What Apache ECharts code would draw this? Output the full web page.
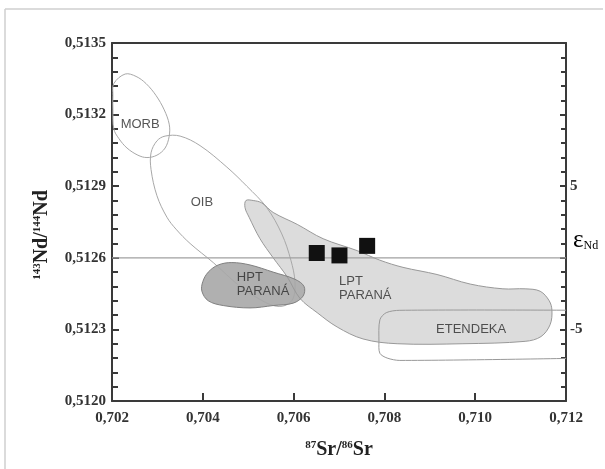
<!DOCTYPE html>
<html>
<head>
<meta charset="utf-8">
<script src="https://cdn.jsdelivr.net/npm/echarts@6/dist/echarts.min.js"></script>
<style>
  html, body { margin: 0; padding: 0; background: #fff; }
  #chart { width: 605px; height: 469px; }
</style>
</head>
<body>
<div id="chart"></div>
<script>
// 87Sr/86Sr vs 143Nd/144Nd isotope diagram with mantle / province fields

// Axis ranges and tick steps
const xRange = [0.702, 0.712];
const xStep = 0.002;
const yRange = [0.5120, 0.5135];
const yStep = 0.0003;
const epsRange = [-10, 15];
const epsStep = 5;
const epsLabelled = [5, -5];

// Reference line (εNd = 0 level)
const chondriteLevel = 0.5126;

// Sample compositions [87Sr/86Sr, 143Nd/144Nd]
const sampleSr = [0.70651, 0.70701, 0.70762];
const sampleNd = [0.51262, 0.51261, 0.51265];

// Field outlines [87Sr/86Sr, 143Nd/144Nd]
const morbField = [
  [0.70204, 0.51333], [0.70229, 0.51337], [0.70253, 0.51336], [0.70275, 0.51333],
  [0.70297, 0.51328], [0.70315, 0.51322], [0.70326, 0.51316], [0.70326, 0.51311],
  [0.70317, 0.51306], [0.70299, 0.51303], [0.70277, 0.51302], [0.70257, 0.51303],
  [0.70233, 0.51306], [0.70215, 0.51310], [0.70204, 0.51314], [0.70202, 0.51322],
  [0.70202, 0.51328]
];
const oibField = [
  [0.70317, 0.51311], [0.70350, 0.51311], [0.70394, 0.51307], [0.70453, 0.51298],
  [0.70497, 0.51290], [0.70541, 0.51281], [0.70574, 0.51270], [0.70594, 0.51259],
  [0.70603, 0.51250], [0.70599, 0.51243], [0.70581, 0.51240], [0.70555, 0.51240],
  [0.70522, 0.51243], [0.70482, 0.51248], [0.70423, 0.51258], [0.70372, 0.51266],
  [0.70341, 0.51272], [0.70321, 0.51277], [0.70299, 0.51286], [0.70286, 0.51297],
  [0.70286, 0.51304], [0.70299, 0.51309]
];
const hptField = [
  [0.70412, 0.51254], [0.70434, 0.51257], [0.70464, 0.51258], [0.70504, 0.51257],
  [0.70555, 0.51254], [0.70603, 0.51251], [0.70623, 0.51248], [0.70621, 0.51244],
  [0.70599, 0.51241], [0.70555, 0.51240], [0.70504, 0.51239], [0.70445, 0.51240],
  [0.70412, 0.51242], [0.70398, 0.51246], [0.70400, 0.51250]
];
const lptField = [
  [0.70495, 0.51284], [0.70511, 0.51284], [0.70530, 0.51283], [0.70555, 0.51279],
  [0.70608, 0.51274], [0.70665, 0.51268], [0.70740, 0.51263], [0.70790, 0.51259],
  [0.70841, 0.51256], [0.70916, 0.51253], [0.70989, 0.51249], [0.71061, 0.51247],
  [0.71110, 0.51247], [0.71143, 0.51246], [0.71163, 0.51242], [0.71169, 0.51238],
  [0.71165, 0.51232], [0.71145, 0.51227], [0.71110, 0.51225], [0.70973, 0.51224],
  [0.70828, 0.51224], [0.70753, 0.51226], [0.70696, 0.51231], [0.70652, 0.51237],
  [0.70614, 0.51243], [0.70586, 0.51252], [0.70555, 0.51260], [0.70526, 0.51268],
  [0.70502, 0.51277], [0.70493, 0.51281]
];
// open on the high-Sr side, runs past the frame
const etendekaField = [
  [0.7125, 0.51238], [0.70834, 0.51238], [0.70804, 0.51237], [0.70790, 0.51234],
  [0.70788, 0.51225], [0.70790, 0.51220], [0.70806, 0.51218], [0.70834, 0.51217],
  [0.7125, 0.51218]
];

// Field names and anchor points
const fieldNames = ['MORB', 'OIB', 'HPT\nPARANÁ', 'LPT\nPARANÁ', 'ETENDEKA'];
const fieldLabelAt = [
  [0.70262, 0.51316], [0.70398, 0.51283], [0.70475, 0.51249], [0.70700, 0.51247], [0.70991, 0.51230]
];
const fieldLabelAlign = ['center', 'center', 'left', 'left', 'center'];

const serif = 'Liberation Serif';
const sans = 'Liberation Sans';
const axisColor = '#3a3a3a';

function fmtDec(v, d) { return v.toFixed(d).replace('.', ','); }

function fieldSeries(pts, opts) {
  return {
    type: 'custom',
    coordinateSystem: 'cartesian2d',
    clip: true,
    silent: true,
    z: opts.z,
    data: [pts[0]],
    renderItem: function (params, api) {
      const points = pts.map(p => api.coord(p));
      return {
        type: opts.closed ? 'polygon' : 'polyline',
        shape: { points: points, smooth: opts.smooth },
        style: {
          fill: opts.fill || null,
          stroke: opts.stroke || null,
          lineWidth: opts.lineWidth || 1
        }
      };
    }
  };
}

const chart = echarts.init(document.getElementById('chart'), null, { renderer: 'canvas' });

const supStyle = { fontFamily: serif, fontWeight: 'bold', fontSize: 11, color: '#222', padding: [0, 0, 9, 0] };
const bigStyle = { fontFamily: serif, fontWeight: 'bold', fontSize: 20, color: '#222' };

const option = {
  animation: false,
  backgroundColor: '#fff',
  grid: { left: 112, right: 39, top: 43, bottom: 68 },
  xAxis: [{
    type: 'value',
    min: xRange[0], max: xRange[1], interval: xStep,
    axisLine: { onZero: false, lineStyle: { color: axisColor, width: 2 } },
    axisTick: { inside: true, length: 8, lineStyle: { color: axisColor, width: 2 } },
    splitLine: { show: false },
    axisLabel: {
      margin: 10, fontFamily: serif, fontWeight: 'bold', fontSize: 15, color: '#333',
      formatter: v => fmtDec(v, 3)
    },
    name: '{sup|87}{big|Sr/}{sup|86}{big|Sr}',
    nameLocation: 'middle', nameGap: 39,
    nameTextStyle: { rich: { sup: supStyle, big: bigStyle } }
  }, {
    type: 'value', position: 'top',
    min: xRange[0], max: xRange[1],
    axisLine: { show: true, onZero: false, lineStyle: { color: axisColor, width: 2 } },
    axisTick: { show: false }, axisLabel: { show: false }, splitLine: { show: false }
  }],
  yAxis: [{
    type: 'value',
    min: yRange[0], max: yRange[1], interval: yStep,
    axisLine: { show: true, onZero: false, lineStyle: { color: axisColor, width: 2 } },
    axisTick: { inside: true, length: 7, lineStyle: { color: axisColor, width: 2 } },
    minorTick: { show: true, splitNumber: 5, length: 6, lineStyle: { color: axisColor, width: 2 } },
    splitLine: { show: false },
    axisLabel: {
      margin: 6, fontFamily: serif, fontWeight: 'bold', fontSize: 15, color: '#333',
      formatter: v => fmtDec(v, 4)
    },
    name: '{sup|143}{big|Nd/}{sup|144}{big|Nd}',
    nameLocation: 'middle', nameGap: 60, nameRotate: 90,
    nameTextStyle: { padding: [0, 26, 0, 0], rich: { sup: supStyle, big: bigStyle } }
  }, {
    type: 'value', position: 'right',
    min: epsRange[0], max: epsRange[1], interval: epsStep,
    axisLine: { show: true, onZero: false, lineStyle: { color: axisColor, width: 2 } },
    axisTick: { inside: true, length: 6, lineStyle: { color: axisColor, width: 2 } },
    minorTick: { show: true, splitNumber: 5, length: 5, lineStyle: { color: axisColor, width: 2 } },
    splitLine: { show: false },
    axisLabel: {
      margin: 4, fontFamily: serif, fontWeight: 'bold', fontSize: 15, color: '#333',
      formatter: v => (epsLabelled.indexOf(v) >= 0 ? String(v) : '')
    }
  }],
  graphic: [
    { type: 'line', shape: { x1: 5, y1: 9, x2: 603, y2: 9 }, style: { stroke: '#cfcfcf', lineWidth: 1.5 }, silent: true },
    { type: 'line', shape: { x1: 5, y1: 9, x2: 5, y2: 469 }, style: { stroke: '#cfcfcf', lineWidth: 1.5 }, silent: true },
    {
      type: 'text', left: 573, top: 228, silent: true,
      style: {
        text: '{e|ε}{n|Nd}',
        rich: {
          e: { fontFamily: serif, fontSize: 25, color: '#333' },
          n: { fontFamily: serif, fontSize: 12, color: '#333', padding: [10, 0, 0, 0] }
        }
      }
    }
  ],
  series: [
    // filled fields
    fieldSeries(lptField, { closed: true, fill: '#dcdcdc', smooth: 0.35, z: 1 }),
    fieldSeries(hptField, { closed: true, fill: '#b0b0b0', smooth: 0.35, z: 2 }),
    // outlines
    fieldSeries(morbField, { closed: true, stroke: '#a8a8a8', smooth: 0.35, z: 3 }),
    fieldSeries(oibField, { closed: true, stroke: '#a8a8a8', smooth: 0.35, z: 3 }),
    fieldSeries(lptField, { closed: true, stroke: '#999', smooth: 0.35, z: 3 }),
    fieldSeries(hptField, { closed: true, stroke: '#808080', smooth: 0.35, z: 3 }),
    fieldSeries(etendekaField, { closed: false, stroke: '#999', smooth: 0.3, z: 3 }),
    // εNd = 0 reference level across the plot
    {
      type: 'line', z: 4, silent: true, symbol: 'none',
      lineStyle: { color: '#a0a0a0', width: 1.2 },
      data: [[xRange[0], chondriteLevel], [xRange[1], chondriteLevel]]
    },
    {
      type: 'scatter', z: 5, symbolSize: 0, silent: true,
      data: fieldNames.map((n, i) => ({
        value: fieldLabelAt[i], name: n,
        label: {
          position: fieldLabelAlign[i] === 'left' ? 'right' : 'inside',
          distance: 0, align: fieldLabelAlign[i]
        }
      })),
      label: {
        show: true, formatter: p => p.name,
        fontFamily: sans, fontSize: 13, color: '#2b2b2b', lineHeight: 14
      }
    },
    {
      type: 'scatter', z: 6, symbol: 'rect', symbolSize: 16,
      itemStyle: { color: '#111', opacity: 1 },
      data: sampleSr.map((x, i) => [x, sampleNd[i]])
    }
  ]
};

chart.setOption(option);
</script>
</body>
</html>
